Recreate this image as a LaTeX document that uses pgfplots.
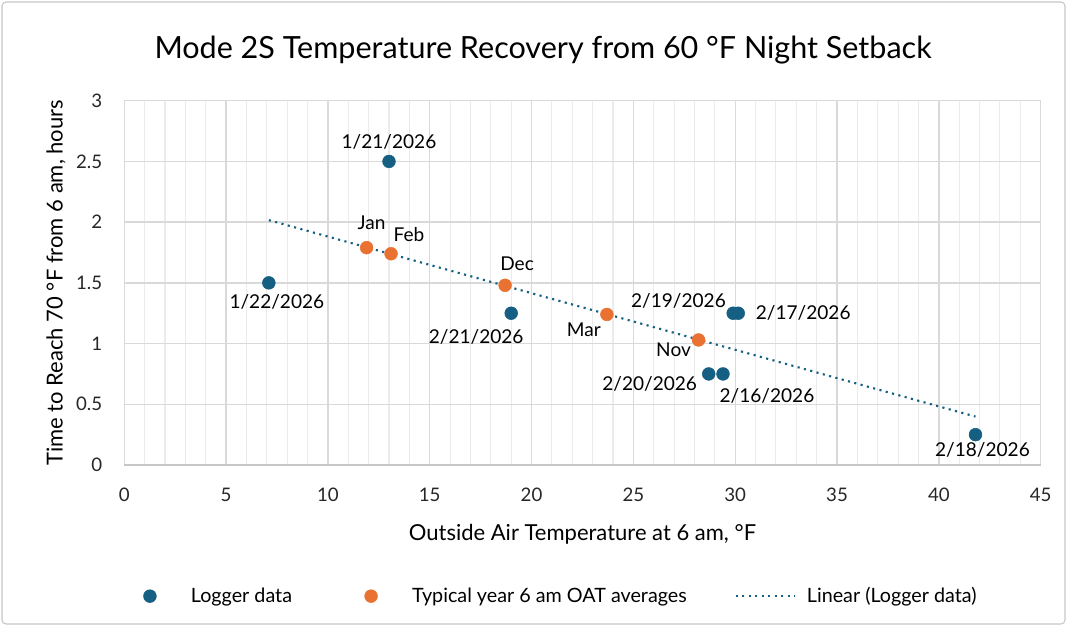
\documentclass[border=0pt]{standalone}
\usepackage{pgfplots}
\pgfplotsset{compat=1.18}
\usepackage{pgfplotstable}
\usepackage{fontspec}
\setmainfont{Lato}
\definecolor{logblue}{HTML}{156082}
\definecolor{typorange}{HTML}{E97132}
\definecolor{gridmaj}{HTML}{D9D9D9}
\definecolor{gridmin}{HTML}{EBEBEB}

\pgfplotstableread{
x y
7.1 1.5
13.0 2.5
19.0 1.25
28.7 0.75
29.4 0.75
29.9 1.25
30.15 1.25
41.8 0.25
}\logger

\pgfplotstableread{
x y
11.9 1.79
13.1 1.74
18.7 1.48
23.7 1.24
28.2 1.03
}\typical

\begin{document}
\begin{tikzpicture}
\useasboundingbox (0,0) rectangle (800.25pt,469.5pt);
\draw[color=gray!45, line width=0.8pt, rounded corners=3pt] (1.5pt,1.5pt) rectangle (798.75pt,468pt);
\node[font=\fontsize{22.9}{26}\selectfont, anchor=center] at (407.25pt,432pt) {Mode 2S Temperature Recovery from 60 °F Night Setback};
\begin{axis}[
  at={(93.2pt,120.75pt)}, anchor=south west,
  scale only axis, width=687.3pt, height=273.2pt,
  xmin=0, xmax=45, ymin=0, ymax=3,
  xtick={0,5,...,45}, ytick={0,0.5,...,3},
  minor xtick={1,2,3,4,6,7,8,9,11,12,13,14,16,17,18,19,21,22,23,24,26,27,28,29,31,32,33,34,36,37,38,39,41,42,43,44},
  grid=both,
  major grid style={gridmaj, line width=1pt},
  minor grid style={gridmin, line width=0.8pt},
  axis line style={draw=none},
  tick style={draw=none},
  /pgf/number format/assume math mode=true,
  ticklabel style={font=\fontsize{14}{16}\selectfont, text=black!85},
  xticklabel style={yshift=-14pt},
  yticklabel style={xshift=-13pt},
  xlabel={Outside Air Temperature at 6 am, °F},
  ylabel={Time to Reach 70 °F from 6 am, hours},
  label style={font=\fontsize{16.5}{19}\selectfont},
  xlabel style={yshift=-9.5pt},
  ylabel style={yshift=1pt},
  clip=false,
  legend columns=3,
  legend style={at={(0.016,-0.36)}, anchor=west, draw=none, fill=none,
    inner sep=0pt, outer sep=0pt,
    nodes={inner sep=0pt},
    font=\fontsize{14.8}{17}\selectfont,
    /tikz/column 2/.style={column sep=51pt},
    /tikz/column 4/.style={column sep=35.8pt}},
  legend cell align=left,
]
\draw[gridmaj!80!gray, line width=1pt] (axis cs:0,0) -- (axis cs:45,0);
\addplot[only marks, mark=*, mark size=4.8pt, color=logblue, mark options={draw=logblue, fill=logblue},
  legend image code/.code={\path[draw=none,fill=none] (-8.25pt,0) -- (30.75pt,0); \fill[logblue] (0,0) circle (4.8pt);}] table[x=x,y=y] {\logger};
\addlegendentry{Logger data}
\addplot[only marks, mark=*, mark size=4.8pt, color=typorange, mark options={draw=typorange, fill=typorange},
  legend image code/.code={\path[draw=none,fill=none] (-8.25pt,0) -- (30.75pt,0); \fill[typorange] (0,0) circle (4.8pt);}] table[x=x,y=y] {\typical};
\addlegendentry{Typical year 6 am OAT averages}
\addplot[no marks, color=logblue, line width=1.6pt, dash pattern=on 1.6pt off 3.3pt, line cap=butt,
  legend image code/.code={\path[draw=none,fill=none] (0,0) -- (53.5pt,0); \draw[logblue, line width=1.6pt, dash pattern=on 1.6pt off 3.3pt] (0,0) -- (44.25pt,0);}] table[x=x, y={create col/linear regression={y=y}}] {\logger};
\addlegendentry{Linear (Logger data)}

\tikzset{lbl/.style={font=\fontsize{14.3}{17}\selectfont, anchor=center, inner sep=0pt}}
\node[lbl] at (axis cs:13.0,2.5) [yshift=15pt] {1/21/2026};
\node[lbl] at (axis cs:7.1,1.5) [xshift=6pt, yshift=-14.25pt] {1/22/2026};
\node[lbl] at (axis cs:19.0,1.25) [xshift=-26.25pt, yshift=-18pt] {2/21/2026};
\node[lbl] at (axis cs:29.9,1.25) [xshift=-41pt, yshift=9pt] {2/19/2026};
\node[lbl] at (axis cs:30.15,1.25) [xshift=48.75pt] {2/17/2026};
\node[lbl] at (axis cs:28.7,0.75) [xshift=-44.25pt, yshift=-7.5pt] {2/20/2026};
\node[lbl] at (axis cs:29.4,0.75) [xshift=33pt, yshift=-16.5pt] {2/16/2026};
\node[lbl] at (axis cs:41.8,0.25) [xshift=5.25pt, yshift=-11.25pt] {2/18/2026};
\node[lbl] at (axis cs:11.9,1.79) [xshift=3.75pt, yshift=18.75pt] {Jan};
\node[lbl] at (axis cs:13.1,1.74) [xshift=13.5pt, yshift=14.25pt] {Feb};
\node[lbl] at (axis cs:18.7,1.48) [xshift=9pt, yshift=16.5pt] {Dec};
\node[lbl] at (axis cs:23.7,1.24) [xshift=-17.25pt, yshift=-11.25pt] {Mar};
\node[lbl] at (axis cs:28.2,1.03) [xshift=-18.75pt, yshift=-7.5pt] {Nov};
\end{axis}
\end{tikzpicture}
\end{document}
